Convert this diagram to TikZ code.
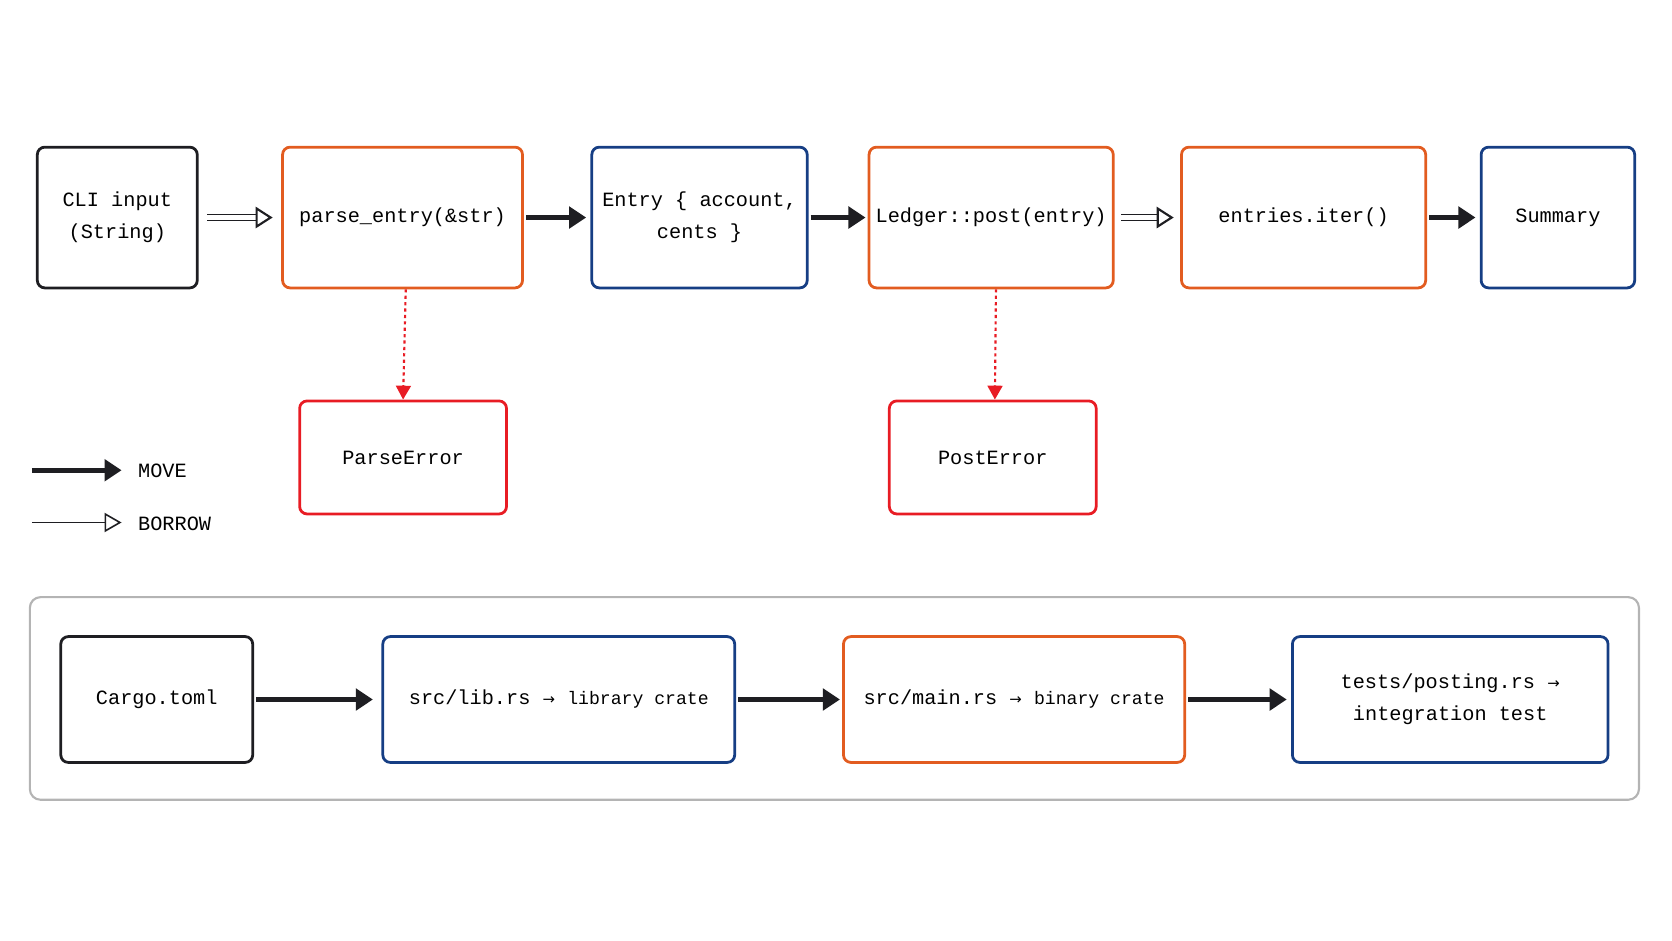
\documentclass[tikz,border=0pt]{standalone}
\usepackage{fontspec}
\setmonofont{Liberation Mono}
\newfontfamily\arrowfont{DejaVu Sans}
\usetikzlibrary{arrows.meta}
\definecolor{rustorange}{RGB}{226,92,32}
\definecolor{rustblue}{RGB}{22,62,132}
\definecolor{errred}{RGB}{232,28,36}
\definecolor{ink}{RGB}{30,30,34}
\definecolor{framegray}{RGB}{180,180,180}
\newcommand{\ra}{{\arrowfont\fontsize{14}{14}\selectfont →}}
\begin{document}
\begin{tikzpicture}[x=1pt,y=1pt,yscale=-1,
    box/.style={draw,rounded corners=7pt,line width=2.6pt,align=center,
      font=\ttfamily\fontsize{19}{30}\selectfont,inner sep=0pt},
    plain/.style={box,draw=ink},
    orng/.style={box,draw=rustorange},
    blu/.style={box,draw=rustblue},
    err/.style={box,draw=errred},
    move/.style={-{Triangle[length=16pt,width=20pt]},line width=5pt,draw=ink},
    borrow/.style={-{Triangle[open,length=16pt,width=20pt,line width=2pt]},
      double=white,double distance=4pt,line width=1.6pt,draw=ink},
    thinborrow/.style={-{Triangle[open,length=16pt,width=18pt,line width=1.5pt]},
      line width=1.5pt,draw=ink},
    fail/.style={-{Triangle[length=13pt,width=14pt]},dashed,line width=2pt,draw=errred}]
  \useasboundingbox (0,0) rectangle (1568,882);
  % main flow
  \node[plain,minimum width=150pt,minimum height=132pt] (cli) at (110,204) {CLI input\\(String)};
  \node[orng,minimum width=225pt,minimum height=132pt] (parse) at (377.5,204) {parse\_entry(\&str)};
  \node[blu,minimum width=202pt,minimum height=132pt] (entry) at (656,204) {Entry \{ account,\\cents \}};
  \node[orng,minimum width=229pt,minimum height=132pt] (post) at (929.5,204) {Ledger::post(entry)};
  \node[orng,minimum width=229pt,minimum height=132pt] (iter) at (1222.5,204) {entries.iter()};
  \node[blu,minimum width=144pt,minimum height=132pt] (sum) at (1461,204) {Summary};
  % errors
  \node[err,minimum width=194pt,minimum height=106pt] (perr) at (378,429) {ParseError};
  \node[err,minimum width=194pt,minimum height=106pt] (lerr) at (931,429) {PostError};
  \draw[borrow] (cli.east) ++(8,0) coordinate (c1) (c1) -- ([xshift=-8pt]parse.west);
  \draw[move] ([xshift=2pt]parse.east) -- ([xshift=-4pt]entry.west);
  \draw[move] ([xshift=2pt]entry.east) -- ([xshift=-2pt]post.west);
  \draw[borrow] ([xshift=6pt]post.east) -- ([xshift=-6pt]iter.west);
  \draw[move] ([xshift=2pt]iter.east) -- ([xshift=-4pt]sum.west);
  \draw[fail] ([xshift=3pt]parse.south) -- (perr.north);
  \draw[fail] ([xshift=4.5pt]post.south) -- ([xshift=2pt]lerr.north);
  % legend
  \coordinate (m0) at (30,441); \coordinate (m1) at (114,441);
  \coordinate (b0) at (30,490); \coordinate (b1) at (114,490);
  \draw[move] (m0) -- (m1);
  \draw[thinborrow] (b0) -- (b1);
  \node[anchor=west,font=\ttfamily\fontsize{19}{22}\selectfont] (lm) at (126,442) {MOVE};
  \node[anchor=west,font=\ttfamily\fontsize{19}{22}\selectfont] (lb) at (126,491) {BORROW};
  % crate layout
  \draw[framegray,line width=2pt,rounded corners=10pt] (28,560) rectangle (1537,750);
  \node[plain,minimum width=180pt,minimum height=118pt] (cargo) at (147,656) {Cargo.toml};
  \node[blu,minimum width=330pt,minimum height=118pt] (lib) at (524,656) {src/lib.rs \ra{} {\fontsize{17}{20}\selectfont library crate}};
  \node[orng,minimum width=320pt,minimum height=118pt] (bin) at (951,656) {src/main.rs \ra{} {\fontsize{17}{20}\selectfont binary crate}};
  \node[blu,minimum width=296pt,minimum height=118pt] (tests) at (1360,656) {tests/posting.rs \ra\\integration test};
  \draw[move] ([xshift=2pt]cargo.east) -- ([xshift=-8pt]lib.west);
  \draw[move] ([xshift=2pt]lib.east) -- ([xshift=-2pt]bin.west);
  \draw[move] ([xshift=2pt]bin.east) -- ([xshift=-4pt]tests.west);
\end{tikzpicture}
\end{document}
